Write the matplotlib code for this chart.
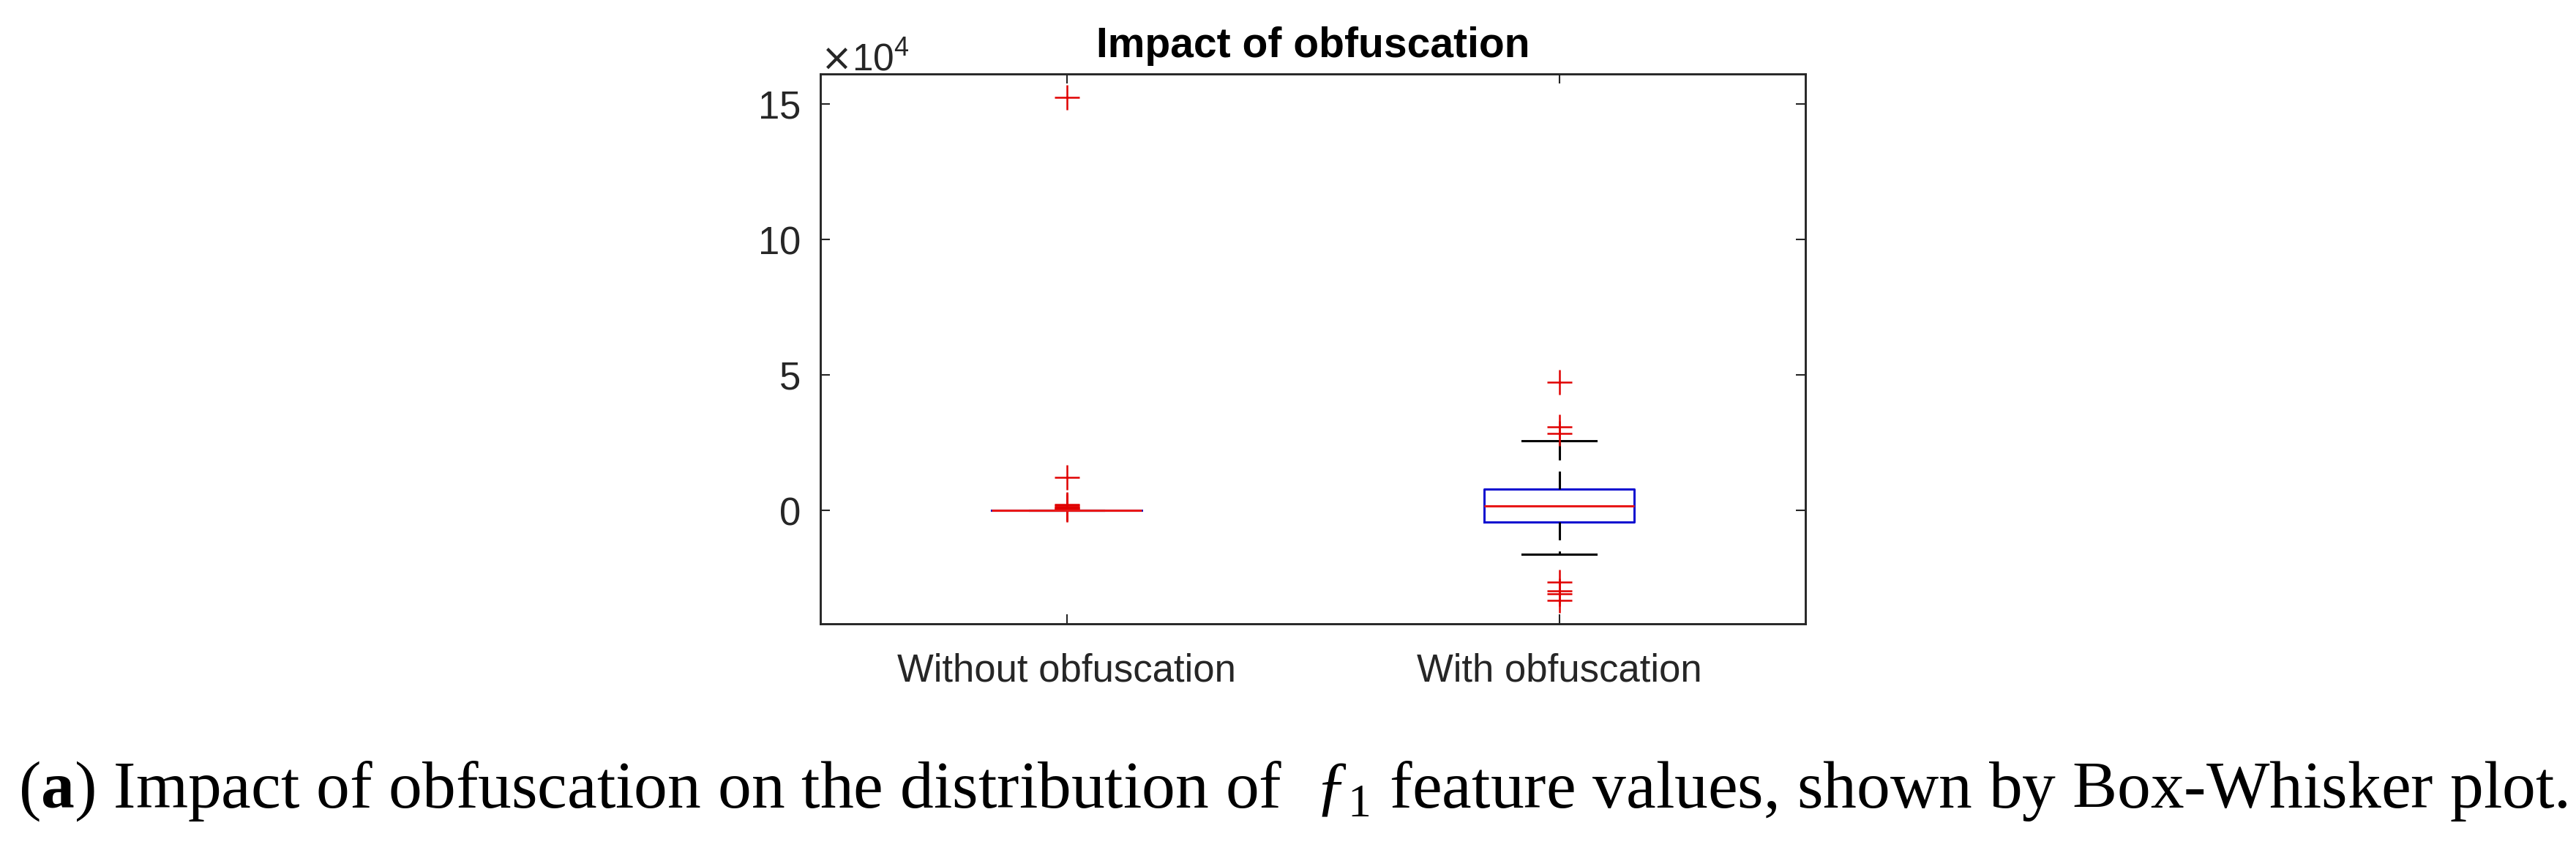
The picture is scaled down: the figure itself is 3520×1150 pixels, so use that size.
import matplotlib
matplotlib.use("Agg")
import matplotlib.pyplot as plt
import matplotlib.ticker as ticker

#Style
matplotlib.rcParams.update({
    "font.family":      "Liberation Sans",
    "mathtext.fontset": "custom",
    "mathtext.rm":      "Liberation Serif",
    "mathtext.it":      "Liberation Serif:italic",
    "mathtext.bf":      "Liberation Serif:bold",
})

AX_COLOR = "#262626"

#Data (feature values)
GROUPS    = ["Without obfuscation", "With obfuscation"]
Q1        = [0, -4300]
MEDIAN    = [0, 1600]
Q3        = [0, 7800]
WHISK_LO  = [0, -16200]
WHISK_HI  = [0, 25700]
FLIERS_WITHOUT = [152500, 12200, 200, 500, 800, 1100, 1400, 1700, 2000]
FLIERS_WITH    = [47300, 30800, 28400, -26500, -29700, -30800, -33200]

TITLE   = "Impact of obfuscation"
CAPTION = (r"($\mathbf{a}$) Impact of obfuscation on the distribution of  "
           r"$ƒ_{\mathrm{1}}$ feature values, shown by Box-Whisker plot.")

fig = plt.figure(figsize=(35.2, 11.5), dpi=100)
ax = fig.add_axes([0.3185, 0.259, 0.3824, 0.653])

stats = []
for i, name in enumerate(GROUPS):
    stats.append(dict(label=name, q1=Q1[i], med=MEDIAN[i], q3=Q3[i],
                      whislo=WHISK_LO[i], whishi=WHISK_HI[i],
                      fliers=[FLIERS_WITHOUT, FLIERS_WITH][i]))

lw = 2.2
ax.bxp(stats, positions=[1, 2], widths=0.305, capwidths=0.15,
       boxprops=dict(color="#1010d0", linewidth=lw),
       medianprops=dict(color="#e81818", linewidth=lw),
       whiskerprops=dict(color="black", linewidth=lw, linestyle=(0, (8, 5))),
       capprops=dict(color="black", linewidth=lw),
       flierprops=dict(marker="+", markeredgecolor="#e00000",
                       markersize=24, markeredgewidth=1.8))

ax.set_xlim(0.5, 2.5)
ax.set_ylim(-42000, 161000)
ax.set_yticks([0, 50000, 100000, 150000])

# fixed x10^4 multiplier, like the original
fmt = ticker.ScalarFormatter(useMathText=True)
fmt.set_powerlimits((4, 4))
ax.yaxis.set_major_formatter(fmt)
off = ax.yaxis.get_offset_text()
off.set_fontsize(37)
off.set_color("#555555")
off.set_math_fontfamily("dejavusans")

ax.tick_params(axis="both", direction="in", length=9.5, width=1.5,
               colors=AX_COLOR, labelsize=38, top=True, right=True)
ax.tick_params(axis="y", pad=20)
ax.tick_params(axis="x", pad=28)
for sp in ax.spines.values():
    sp.set_linewidth(2.1)
    sp.set_color(AX_COLOR)

ax.set_title(TITLE, fontsize=41, fontweight="bold", pad=17)

# caption under the chart, stretched to the figure width
cap = fig.text(25 / 3520, 1 - 1103 / 1150, CAPTION, fontsize=60,
               family="Liberation Serif", math_fontfamily="custom",
               va="baseline", ha="left")
fig.canvas.draw()
w = cap.get_window_extent().width
cap.set_fontsize(60 * (3485 / w))

fig.savefig("out.png", dpi=100)
